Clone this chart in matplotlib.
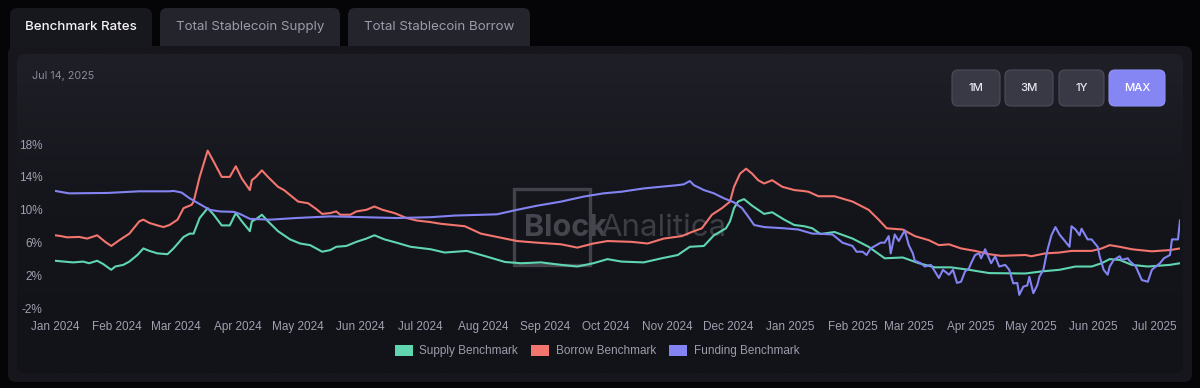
import numpy as np
import matplotlib
matplotlib.use("Agg")
import matplotlib.pyplot as plt
from matplotlib.patches import FancyBboxPatch, Rectangle, Patch
import matplotlib.dates as mdates

# ---------------- data (day offset from 2024-01-01, value in %) ----------------
START = np.datetime64("2024-01-01")

supply_days = [0, 9, 14, 17, 21, 24, 28, 30, 34, 37, 41, 44, 47, 51, 56, 59, 64, 67, 69, 72,
               76, 79, 83, 87, 90, 93, 97, 98, 100, 103, 106, 111, 117, 122, 127, 133, 137, 140,
               145, 150, 155, 159, 164, 170, 177, 187, 194, 205, 215, 224, 232, 242, 252, 260,
               268, 275, 282, 293, 302, 310, 316, 323, 328, 334, 336, 338, 340, 343, 347, 350,
               353, 357, 363, 368, 373, 377, 381, 388, 397, 405, 413, 422, 430, 438, 446, 455,
               465, 483, 491, 500, 508, 516, 521, 525, 530, 536, 544, 555, 560]
supply_vals = [3.8, 3.6, 3.7, 3.5, 3.8, 3.4, 2.7, 3.1, 3.3, 3.7, 4.5, 5.3, 5.0, 4.7, 4.6, 5.3, 6.7,
               7.1, 7.1, 9.0, 10.2, 9.4, 8.1, 8.1, 9.6, 8.6, 7.4, 8.6, 8.85, 9.4, 8.6, 7.4, 6.4,
               5.9, 5.7, 4.9, 5.1, 5.5, 5.6, 6.1, 6.5, 6.9, 6.4, 6.0, 5.5, 5.2, 4.8, 5.0, 4.3,
               3.65, 3.5, 3.6, 3.3, 3.1, 3.5, 4.0, 3.7, 3.6, 4.1, 4.5, 5.5, 5.6, 6.9, 7.75, 8.6,
               10.2, 11.0, 11.3, 10.5, 10.0, 9.5, 9.7, 8.8, 8.15, 8.0, 7.75, 7.05, 7.3, 6.5, 5.5,
               4.1, 4.2, 3.5, 3.0, 3.0, 2.7, 2.3, 2.25, 2.5, 2.7, 3.1, 3.1, 3.5, 4.0, 3.9, 3.3,
               3.1, 3.3, 3.5]

borrow_days = [0, 3, 6, 12, 16, 21, 25, 28, 32, 37, 42, 44, 47, 51, 54, 57, 61, 64, 68, 69, 72,
               76, 79, 83, 87, 90, 93, 97, 98, 100, 103, 106, 111, 114, 117, 121, 126, 130, 133,
               137, 140, 142, 147, 150, 155, 159, 163, 169, 175, 180, 187, 192, 204, 212, 220,
               230, 240, 252, 260, 268, 275, 287, 295, 303, 312, 317, 322, 327, 332, 336, 338,
               341, 344, 347, 350, 353, 357, 362, 368, 372, 375, 380, 388, 397, 405, 410, 414,
               422, 428, 435, 440, 445, 451, 458, 465, 471, 483, 486, 493, 500, 506, 516, 521,
               525, 530, 536, 546, 555, 560]
borrow_vals = [6.9, 6.8, 6.65, 6.7, 6.5, 6.9, 6.1, 5.6, 6.3, 7.1, 8.6, 8.8, 8.4, 8.1, 7.9, 8.15,
               8.8, 10.2, 10.6, 11.0, 14.0, 17.2, 15.85, 14.0, 14.0, 15.3, 13.8, 12.4, 13.6, 14.0,
               14.8, 14.0, 12.8, 12.4, 11.8, 11.0, 10.8, 10.1, 9.5, 9.6, 9.8, 9.4, 9.4, 9.8, 10.0,
               10.4, 10.0, 9.6, 9.0, 8.7, 8.5, 8.3, 8.0, 7.1, 6.7, 6.2, 6.0, 5.8, 5.4, 5.9, 6.2,
               6.1, 5.9, 6.5, 6.8, 7.3, 7.75, 9.4, 10.2, 11.0, 12.8, 14.4, 15.0, 14.4, 13.6, 13.2,
               13.6, 12.8, 12.4, 12.3, 12.2, 11.65, 11.65, 11.0, 10.0, 8.8, 7.75, 7.6, 6.8, 6.3,
               5.7, 5.8, 5.3, 5.0, 4.6, 4.4, 4.5, 4.35, 4.7, 4.8, 5.0, 5.0, 5.3, 5.7, 5.5, 5.2,
               4.95, 5.1, 5.3]

funding_days = [0, 7, 26, 42, 57, 59, 63, 67, 72, 77, 82, 89, 92, 97, 107, 120, 137, 154, 170,
                187, 199, 220, 230, 240, 252, 263, 273, 282, 293, 310, 313, 316, 318, 323, 328,
                333, 338, 342, 345, 348, 353, 363, 370, 377, 380, 387, 392, 397, 399, 402, 404,
                406, 411, 413, 415, 416, 418, 420, 423, 425, 427, 428, 431, 433, 436, 440, 442,
                445, 447, 449, 451, 453, 455, 456, 458, 460, 461, 463, 466, 468, 470, 473, 475,
                477, 479, 480, 482, 484, 485, 487, 489, 490, 492, 494, 496, 498, 500, 502, 505,
                506, 508, 510, 511, 514, 516, 519, 520, 522, 524, 525, 527, 530, 531, 534, 535,
                538, 541, 544, 546, 550, 552, 555, 556, 559, 560]
funding_vals = [12.3, 12.0, 12.05, 12.25, 12.25, 12.3, 12.1, 11.4, 10.7, 10.0, 9.8, 9.75, 9.5,
                8.9, 8.8, 9.0, 9.2, 9.1, 9.0, 9.1, 9.3, 9.45, 10.0, 10.5, 11.0, 11.6, 12.0, 12.2,
                12.6, 13.0, 13.1, 13.5, 13.0, 12.4, 12.0, 11.4, 10.9, 10.2, 9.2, 8.15, 7.9, 7.75,
                7.6, 7.1, 7.1, 7.0, 6.0, 5.6, 4.9, 4.9, 4.5, 5.3, 6.0, 6.0, 6.8, 4.7, 7.0, 6.2,
                7.5, 5.7, 4.7, 3.8, 3.5, 3.1, 3.3, 1.7, 2.7, 2.1, 2.7, 1.1, 1.25, 2.5, 2.9, 3.5,
                4.5, 4.7, 4.1, 5.2, 3.5, 4.35, 3.1, 3.3, 2.7, 1.05, 1.1, -0.35, 0.65, 0.8, 1.85,
                -0.15, 0.85, 1.85, 2.7, 5.1, 6.9, 7.9, 7.0, 6.4, 5.5, 8.0, 7.6, 6.9, 7.7, 6.4,
                6.4, 5.5, 4.35, 2.7, 2.1, 3.1, 3.9, 4.35, 3.9, 4.1, 3.75, 3.1, 1.45, 1.25, 2.7,
                3.5, 4.1, 4.5, 6.4, 6.4, 8.7]

series_names = ["Supply Benchmark", "Borrow Benchmark", "Funding Benchmark"]
series_colors = ["#5fd6b0", "#f2756e", "#8383f2"]
y_ticks = [-2, 2, 6, 10, 14, 18]
tabs = ["Benchmark Rates", "Total Stablecoin Supply", "Total Stablecoin Borrow"]
buttons = ["1M", "3M", "1Y", "MAX"]
date_label = "Jul 14, 2025"

# ---------------- figure ----------------
W, H = 1200, 388
fig = plt.figure(figsize=(W / 100, H / 100), dpi=100, facecolor="#050507")

bg = fig.add_axes([0, 0, 1, 1])
bg.set_xlim(0, W)
bg.set_ylim(H, 0)
bg.axis("off")

# tabs
tab_boxes = [(10, 152), (160, 340), (348, 530)]
for i, ((x0, x1), name) in enumerate(zip(tab_boxes, tabs)):
    col = "#17171e" if i == 0 else "#24242c"
    bg.add_patch(FancyBboxPatch((x0, 8), x1 - x0, 45, boxstyle="round,pad=0,rounding_size=7",
                                fc=col, ec="none", zorder=1))
    bg.text((x0 + x1) / 2, 27, name, ha="center", va="center", fontsize=9.6,
            family="Inter", fontweight="medium" if i == 0 else "normal",
            color="#f4f4f8" if i == 0 else "#9b9bab", zorder=3)

# outer container
bg.add_patch(FancyBboxPatch((8, 46), 1184, 336, boxstyle="round,pad=0,rounding_size=8",
                            fc="#16161c", ec="none", zorder=2))
# inner panel with gradient
panel = FancyBboxPatch((17, 54), 1166, 319, boxstyle="round,pad=0,rounding_size=8",
                       fc="#14141b", ec="none", zorder=2)
bg.add_patch(panel)
grad = np.linspace(0, 1, 200).reshape(-1, 1)
cmap = matplotlib.colors.LinearSegmentedColormap.from_list("g", ["#1f1f27", "#14141b", "#121219"])
im = bg.imshow(grad, extent=(17, 1183, 373, 54), cmap=cmap, aspect="auto", zorder=2.1,
               interpolation="bilinear")
im.set_clip_path(panel)
bg.set_xlim(0, W)
bg.set_ylim(H, 0)

bg.text(32, 76, date_label, ha="left", va="center", fontsize=7.8, family="Inter",
        color="#8a8a98", zorder=3)

# buttons
btn_boxes = [(952, 1000), (1005, 1053), (1059, 1104), (1109, 1165)]
for (x0, x1), name in zip(btn_boxes, buttons):
    active = name == "MAX"
    bg.add_patch(FancyBboxPatch((x0, 70), x1 - x0, 36, boxstyle="round,pad=0,rounding_size=6",
                                fc="#8585f4" if active else "#393945",
                                ec="#8f8ff6" if active else "#4d4d5a", lw=0.8, zorder=3))
    bg.text((x0 + x1) / 2, 88, name, ha="center", va="center", fontsize=8.2, family="Inter",
            fontweight="medium", color="#ffffff" if active else "#e6e6ee", zorder=4)

# watermark
bg.add_patch(Rectangle((514, 189), 76, 76, fill=False, ec="#42424a", lw=2.4, zorder=3))
bg.text(524, 228, "Block", ha="left", va="center", fontsize=22, family="Inter",
        fontweight="bold", color="#45454d", zorder=3)
bg.text(600, 228, "Analitica", ha="left", va="center", fontsize=22.5, family="Inter",
        fontweight="normal", color="#3d3d45", zorder=3)

# ---------------- data axes ----------------
ymin, ymax = -3.0, 19.0
px_top, px_bot = 292 - 8.22 * ymax, 292 - 8.22 * ymin
left, right = 55, 1180
ax = fig.add_axes([left / W, 1 - px_bot / H, (right - left) / W, (px_bot - px_top) / H])
ax.patch.set_alpha(0)
for s in ax.spines.values():
    s.set_visible(False)

def to_dates(days):
    return START + np.array(days, dtype="timedelta64[D]")

for days, vals, name, col in zip([supply_days, borrow_days, funding_days],
                                 [supply_vals, borrow_vals, funding_vals],
                                 series_names, series_colors):
    ax.plot(to_dates(days).astype("datetime64[D]").astype(object), vals, color=col, lw=1.5,
            label=name, solid_joinstyle="round")

x0 = START.astype(object)
x1 = (START + np.timedelta64(560, "D")).astype(object)
ax.set_xlim(x0, x1)
ax.set_ylim(ymin, ymax)
ax.set_yticks(y_ticks)
ax.set_yticklabels([f"{v}%" for v in y_ticks])
ax.xaxis.set_major_locator(mdates.MonthLocator())
ax.xaxis.set_major_formatter(mdates.DateFormatter("%b %Y"))
ax.tick_params(axis="both", length=0, colors="#a0a0b0", labelsize=8.5)
ax.tick_params(axis="x", pad=3)
ax.tick_params(axis="y", pad=9)
for lab in ax.get_xticklabels() + ax.get_yticklabels():
    lab.set_family("Liberation Sans")

handles = [Patch(facecolor=c, edgecolor="none") for c in series_colors]
leg = fig.legend(handles, series_names, loc="center", bbox_to_anchor=(597 / W, 1 - 351 / H),
                 ncol=3, frameon=False, handlelength=1.55, handleheight=1.15,
                 handletextpad=0.55, columnspacing=1.1,
                 prop={"family": "Liberation Sans", "size": 8.5})
for t in leg.get_texts():
    t.set_color("#9d9dab")

fig.savefig("out.png", dpi=100, facecolor=fig.get_facecolor())
